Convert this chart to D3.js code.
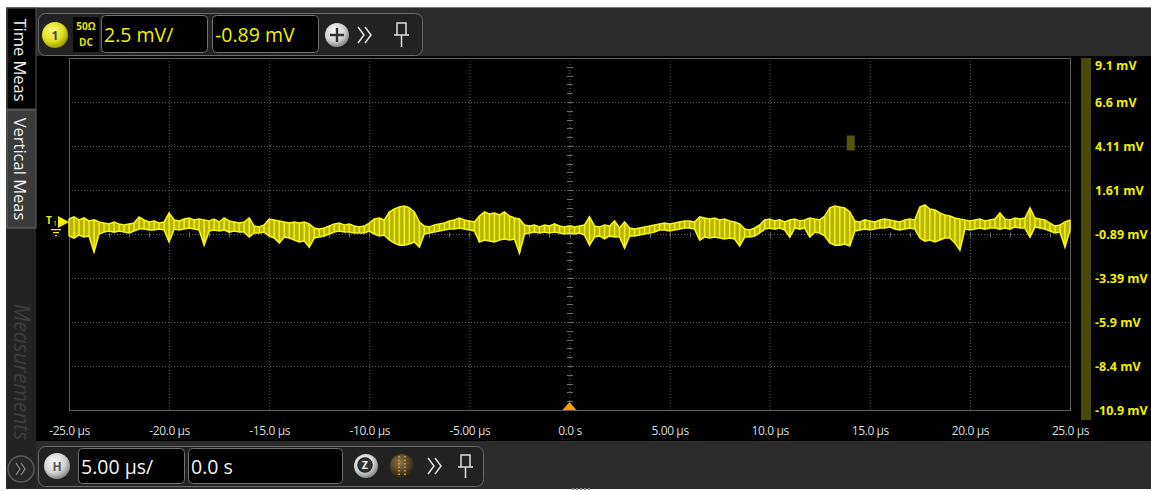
<!DOCTYPE html>
<html>
<head>
<meta charset="utf-8">
<script src="https://cdn.jsdelivr.net/npm/d3@7"></script>
<style>
  body { margin: 0; background: #fff; }
  svg text { font-family: "Open Sans", "Noto Sans", sans-serif; }
</style>
</head>
<body>
<div id="scope"></div>
<script>
// sample grid of the trace (µs)
var timeStart = -25;
var timeStep = 0.25;

// upper and lower edge of the trace at each sample (mV)
var traceMax = [
  -0.05, 0.07, -0.10, 0.01, -0.16, -0.10, -0.22, -0.28, -0.33, -0.22, -0.33, -0.39, -0.33, -0.28, 0.07, -0.10, -0.22, -0.16, -0.28, -0.22,
  0.29, -0.10, -0.16, -0.05, 0.01, -0.10, -0.05, -0.10, -0.16, -0.05, -0.22, 0.01, -0.16, -0.22, -0.28, -0.22, 0.01, -0.45, -0.50, -0.39,
  -0.05, -0.10, -0.16, -0.22, -0.28, -0.22, -0.28, -0.22, -0.33, -0.56, -0.62, -0.56, -0.45, -0.33, -0.28, -0.39, -0.33, -0.45, -0.50, -0.45,
  -0.28, -0.05, 0.01, -0.10, 0.35, 0.52, 0.63, 0.69, 0.58, 0.35, -0.22, -0.45, -0.50, -0.39, -0.33, -0.28, -0.16, -0.10, 0.01, -0.10,
  -0.16, -0.22, 0.12, 0.35, 0.24, 0.29, 0.18, 0.35, 0.12, 0.01, -0.05, -0.39, -0.45, -0.39, -0.50, -0.39, -0.45, -0.33, -0.45, -0.50,
  -0.45, -0.50, -0.45, -0.39, 0.07, -0.45, -0.50, -0.39, -0.45, -0.16, -0.56, -0.22, -0.56, -0.62, -0.56, -0.50, -0.45, -0.39, -0.33, -0.28,
  -0.33, -0.28, -0.22, -0.16, -0.16, -0.22, 0.07, 0.01, -0.05, 0.01, -0.10, -0.05, -0.16, -0.22, -0.33, -0.62, -0.67, -0.56, -0.39, -0.10,
  -0.05, -0.16, -0.10, -0.22, -0.10, -0.05, -0.16, -0.10, 0.01, -0.05, -0.10, 0.12, 0.58, 0.69, 0.63, 0.58, 0.35, -0.16, -0.22, -0.10,
  -0.16, -0.22, -0.10, -0.05, -0.10, -0.16, -0.22, -0.10, -0.05, -0.10, 0.63, 0.75, 0.52, 0.46, 0.29, 0.18, 0.12, 0.01, -0.05, -0.10,
  -0.16, -0.10, -0.05, -0.16, -0.10, -0.05, 0.29, -0.05, -0.10, 0.01, -0.05, 0.01, 0.58, 0.01, -0.05, -0.10, -0.28, -0.45, -0.39, -0.22, -0.10
];
var traceMin = [
  -1.01, -1.13, -0.96, -1.07, -1.01, -1.92, -0.90, -0.79, -0.73, -0.79, -0.73, -0.79, -0.84, -0.73, -0.62, -0.62, -0.67, -0.67, -0.62, -0.67,
  -1.35, -0.62, -0.67, -0.62, -0.56, -0.62, -0.67, -1.53, -0.73, -0.67, -0.73, -0.67, -0.79, -0.73, -0.79, -0.79, -1.07, -0.84, -0.84, -0.79,
  -1.01, -1.13, -1.41, -1.07, -1.13, -1.24, -1.35, -1.30, -1.64, -1.13, -1.07, -1.01, -0.90, -0.79, -0.73, -0.79, -0.79, -0.84, -0.84, -0.84,
  -0.73, -0.90, -1.01, -0.96, -1.24, -1.41, -1.53, -1.53, -1.47, -1.35, -1.64, -0.90, -0.84, -0.79, -0.73, -0.67, -0.62, -0.62, -0.56, -0.62,
  -0.67, -0.73, -1.35, -1.24, -1.30, -1.35, -1.24, -1.18, -1.24, -1.18, -1.98, -0.90, -0.84, -0.79, -0.84, -0.79, -0.84, -0.79, -0.84, -0.90,
  -0.84, -0.90, -0.84, -0.96, -1.53, -1.07, -1.01, -1.18, -1.01, -1.07, -1.07, -1.70, -1.01, -1.01, -0.96, -0.90, -0.84, -0.79, -0.67, -0.67,
  -0.73, -0.67, -0.62, -0.56, -0.56, -0.62, -1.24, -1.07, -1.13, -1.07, -1.13, -1.18, -1.13, -1.18, -1.58, -1.07, -1.07, -1.01, -0.84, -0.62,
  -0.56, -0.62, -0.56, -0.67, -1.07, -0.56, -0.62, -0.56, -1.07, -0.79, -0.84, -1.01, -1.41, -1.53, -1.53, -1.47, -1.58, -0.73, -0.67, -0.62,
  -0.67, -0.62, -0.56, -0.56, -0.50, -0.62, -0.67, -0.62, -0.56, -0.62, -1.13, -1.30, -1.24, -1.35, -1.24, -1.13, -1.13, -1.41, -1.81, -0.62,
  -0.67, -0.62, -0.56, -0.62, -0.56, -0.56, -0.62, -0.56, -0.62, -0.50, -0.56, -0.56, -1.07, -0.50, -0.56, -0.62, -0.73, -0.84, -0.79, -1.64, -0.67
];

var xTickValues = [-25, -20, -15, -10, -5, 0, 5, 10, 15, 20, 25];
var xTickLabels = ["-25.0 µs", "-20.0 µs", "-15.0 µs", "-10.0 µs", "-5.00 µs", "0.0 s",
                   "5.00 µs", "10.0 µs", "15.0 µs", "20.0 µs", "25.0 µs"];
var yTickValues = [9.1, 6.6, 4.1, 1.6, -0.9, -3.4, -5.9, -8.4, -10.9];
var yTickLabels = ["9.1 mV", "6.6 mV", "4.11 mV", "1.61 mV", "-0.89 mV", "-3.39 mV", "-5.9 mV", "-8.4 mV", "-10.9 mV"];

var triggerLevel = -0.22;
var triggerTime = 0;
var markerTime = 14.05;
var markerLevel = 4.3;

var svgWidth = 1151;
var svgHeight = 491;

var plot = { left: 69, right: 1070, top: 58, bottom: 410 };

var svg = d3.select("#scope").append("svg")
    .attr("width", svgWidth)
    .attr("height", svgHeight);

var defs = svg.append("defs");

function radialGrad(id, stops) {
  var g = defs.append("radialGradient").attr("id", id)
      .attr("cx", "40%").attr("cy", "35%").attr("r", "70%");
  stops.forEach(function(s) {
    g.append("stop").attr("offset", s[0]).attr("stop-color", s[1]);
  });
}
radialGrad("gYellow", [["0%", "#fbfb7a"], ["60%", "#dede1e"], ["100%", "#8f8f00"]]);
radialGrad("gSilver", [["0%", "#ffffff"], ["60%", "#cfcfcf"], ["100%", "#7a7a7a"]]);
radialGrad("gBronze", [["0%", "#8a7650"], ["60%", "#4e4028"], ["100%", "#231c10"]]);

// frame + panels
svg.append("rect").attr("x", 6).attr("y", 7).attr("width", svgWidth - 6).attr("height", 482)
    .attr("fill", "#2b2b2b");
svg.append("line").attr("x1", 6).attr("x2", svgWidth).attr("y1", 7.5).attr("y2", 7.5)
    .attr("stroke", "#777");
svg.append("rect").attr("x", 36).attr("y", 56).attr("width", svgWidth - 36).attr("height", 385)
    .attr("fill", "#000");

// left side tabs
var side = svg.append("g");
side.append("rect").attr("x", 7).attr("y", 8).attr("width", 29).attr("height", 101)
    .attr("fill", "#000").attr("stroke", "#555");
side.append("rect").attr("x", 7).attr("y", 110).attr("width", 29).attr("height", 118)
    .attr("fill", "#3b3b3b").attr("stroke", "#666");
side.append("rect").attr("x", 7).attr("y", 229).attr("width", 29).attr("height", 259)
    .attr("fill", "#232323");
side.append("text").attr("transform", "translate(14,60) rotate(90)")
    .attr("text-anchor", "middle").attr("font-size", 16.5).attr("fill", "#f2f2f2")
    .text("Time Meas");
side.append("text").attr("transform", "translate(14,169) rotate(90)")
    .attr("text-anchor", "middle").attr("font-size", 16.5).attr("fill", "#f2f2f2")
    .text("Vertical Meas");
side.append("text").attr("transform", "translate(14,372) rotate(90)")
    .attr("text-anchor", "middle").attr("font-size", 21).attr("font-style", "italic")
    .attr("fill", "#3d3d3d").text("Measurements");
side.append("circle").attr("cx", 21).attr("cy", 469).attr("r", 13)
    .attr("fill", "#262626").attr("stroke", "#5a5a5a").attr("stroke-width", 1.5);
side.append("path").attr("d", "M16,463 l4,6 l-4,6 M21,463 l4,6 l-4,6")
    .attr("fill", "none").attr("stroke", "#8a8a8a").attr("stroke-width", 1.3);

// graticule
var xScale = d3.scaleLinear().domain([-25, 25]).range([plot.left, plot.right]);
var yScale = d3.scaleLinear().domain([-10.9, 9.1]).range([plot.bottom, plot.top]);

var grid = svg.append("g");
grid.selectAll(".vgrid")
    .data(xTickValues.slice(1, -1))
    .enter()
    .append("line")
    .attr("x1", d => xScale(d) + 0.5).attr("x2", d => xScale(d) + 0.5)
    .attr("y1", plot.top).attr("y2", plot.bottom)
    .attr("stroke", "#5c5c5c").attr("stroke-dasharray", "1,2");
grid.selectAll(".hgrid")
    .data(yTickValues.slice(1, -1))
    .enter()
    .append("line")
    .attr("y1", d => Math.round(yScale(d)) + 0.5).attr("y2", d => Math.round(yScale(d)) + 0.5)
    .attr("x1", plot.left).attr("x2", plot.right)
    .attr("stroke", "#5c5c5c").attr("stroke-dasharray", "1,2");

// minor ticks on the centre lines
var cx0 = xScale(0) + 0.5;
var cy0 = Math.round(yScale(-0.9)) + 0.5;
grid.selectAll(".mtx")
    .data(d3.range(-25, 25.01, 1))
    .enter()
    .append("line")
    .attr("x1", d => Math.round(xScale(d)) + 0.5).attr("x2", d => Math.round(xScale(d)) + 0.5)
    .attr("y1", cy0 - 2).attr("y2", cy0 + 3)
    .attr("stroke", "#6a6a6a");
grid.selectAll(".mty")
    .data(d3.range(-10.9, 9.11, 0.5))
    .enter()
    .append("line")
    .attr("y1", d => Math.round(yScale(d)) + 0.5).attr("y2", d => Math.round(yScale(d)) + 0.5)
    .attr("x1", cx0 - 3).attr("x2", cx0 + 3)
    .attr("stroke", "#6a6a6a");
grid.append("rect")
    .attr("x", plot.left + 0.5).attr("y", plot.top + 0.5)
    .attr("width", plot.right - plot.left).attr("height", plot.bottom - plot.top)
    .attr("fill", "none").attr("stroke", "#5e5e5e");

// right hand channel bar
svg.append("rect").attr("x", 1081).attr("y", plot.top).attr("width", 10).attr("height", 362)
    .attr("fill", "#4a4a08");

// axes
var bottomAxis = d3.axisBottom(xScale)
    .tickValues(xTickValues)
    .tickSize(0)
    .tickFormat((d, i) => xTickLabels[i]);
var xAxis = svg.append("g")
    .attr("transform", `translate(0, ${plot.bottom + 13})`)
    .call(bottomAxis);
xAxis.select(".domain").remove();
xAxis.selectAll("text")
    .attr("font-family", "'Open Sans', sans-serif")
    .attr("font-size", 12).attr("letter-spacing", "-0.4px")
    .attr("fill", "#dcdcdc");

var rightAxis = d3.axisRight(yScale)
    .tickValues(yTickValues)
    .tickSize(0)
    .tickFormat((d, i) => yTickLabels[i]);
var yAxis = svg.append("g")
    .attr("transform", `translate(1092, 0)`)
    .call(rightAxis);
yAxis.select(".domain").remove();
yAxis.selectAll("text")
    .attr("font-family", "'Open Sans', sans-serif")
    .attr("font-size", 12.5).attr("font-weight", "bold")
    .attr("fill", "#f0f000")
    .attr("dy", (d, i) => i === 0 ? "0.9em" : "0.32em");

// trace
var samples = traceMax.map(function(v, i) {
  return { t: timeStart + i * timeStep, hi: v, lo: traceMin[i] };
});

var band = d3.area()
    .x(d => xScale(d.t))
    .y0(d => yScale(d.lo))
    .y1(d => yScale(d.hi));

var traceG = svg.append("g");

traceG.append("path")
    .datum(samples)
    .attr("d", band)
    .attr("fill", "#b9b400");

// vertical strokes, one per sample, like a dense scope trace
traceG.selectAll(".seg")
    .data(samples)
    .enter()
    .append("line")
    .attr("x1", d => xScale(d.t)).attr("x2", d => xScale(d.t))
    .attr("y1", d => yScale(d.hi)).attr("y2", d => yScale(d.lo))
    .attr("stroke", "#f2f21c")
    .attr("stroke-width", 1.5);

var edge = d3.line()
    .x(d => xScale(d[0]))
    .y(d => yScale(d[1]));

traceG.append("path")
    .datum(samples.map(d => [d.t, d.hi]))
    .attr("d", edge)
    .attr("fill", "none")
    .attr("stroke", "#f4f41a")
    .attr("stroke-width", 1.6);
traceG.append("path")
    .datum(samples.map(d => [d.t, d.lo]))
    .attr("d", edge)
    .attr("fill", "none")
    .attr("stroke", "#f4f41a")
    .attr("stroke-width", 1.6);

// small marker left over on screen
svg.append("rect")
    .attr("x", xScale(markerTime) - 4).attr("y", yScale(markerLevel) - 7)
    .attr("width", 8).attr("height", 15)
    .attr("fill", "#55550c");

// trigger position + level markers
var tx = xScale(triggerTime);
svg.append("path")
    .attr("d", `M${tx - 7},${plot.bottom} L${tx},${plot.bottom - 8} L${tx + 7},${plot.bottom} Z`)
    .attr("fill", "#f39a12");

var ty = yScale(triggerLevel);
var trig = svg.append("g").attr("fill", "#f0f000");
trig.append("path")
    .attr("d", `M58,${ty - 6} L${plot.left},${ty} L58,${ty + 6} Z`);
trig.append("text").attr("x", 46).attr("y", ty + 2)
    .attr("font-size", 10).attr("font-weight", "bold").text("T");
trig.append("text").attr("x", 53).attr("y", ty + 4)
    .attr("font-size", 7).text("1");
trig.append("path")
    .attr("d", `M51,${ty + 7.5} h10 M53,${ty + 10.5} h6 M55,${ty + 13.5} h2`)
    .attr("stroke", "#f0f000").attr("stroke-width", 1.2);

// top toolbar
var topBar = svg.append("g");
topBar.append("rect").attr("x", 38.5).attr("y", 13.5).attr("width", 384).attr("height", 42).attr("rx", 7)
    .attr("fill", "#222").attr("stroke", "#6a6a6a");
topBar.append("circle").attr("cx", 55).attr("cy", 35).attr("r", 13).attr("fill", "url(#gYellow)");
topBar.append("text").attr("x", 55).attr("y", 39.5).attr("text-anchor", "middle")
    .attr("font-size", 12).attr("font-weight", "bold").attr("fill", "#444").text("1");
topBar.append("rect").attr("x", 73).attr("y", 17).attr("width", 26).attr("height", 35).attr("fill", "#000");
topBar.append("text").attr("x", 86).attr("y", 30).attr("text-anchor", "middle")
    .attr("font-size", 10).attr("font-weight", "bold").attr("fill", "#e6e600").text("50Ω");
topBar.append("text").attr("x", 86).attr("y", 46).attr("text-anchor", "middle")
    .attr("font-size", 10).attr("font-weight", "bold").attr("fill", "#e6e600").text("DC");
topBar.append("rect").attr("x", 101.5).attr("y", 15.5).attr("width", 106).attr("height", 37).attr("rx", 4)
    .attr("fill", "#000").attr("stroke", "#707070");
topBar.append("text").attr("x", 104).attr("y", 42).attr("font-size", 19.5)
    .attr("fill", "#f0f000").text("2.5 mV/");
topBar.append("rect").attr("x", 212.5).attr("y", 15.5).attr("width", 106).attr("height", 37).attr("rx", 4)
    .attr("fill", "#000").attr("stroke", "#707070");
topBar.append("text").attr("x", 215).attr("y", 42).attr("font-size", 19.5)
    .attr("fill", "#f0f000").text("-0.89 mV");
topBar.append("circle").attr("cx", 337).attr("cy", 35).attr("r", 12).attr("fill", "url(#gSilver)");
topBar.append("path").attr("d", "M330,35 h14 M337,28 v14")
    .attr("stroke", "#333").attr("stroke-width", 2.4);
topBar.append("path").attr("d", "M358,27 l6,8 l-6,8 M365,27 l6,8 l-6,8")
    .attr("fill", "none").attr("stroke", "#e0e0e0").attr("stroke-width", 1.5);
topBar.append("path").attr("d", "M397,23 h9 v12 h-9 Z M394,35 h15 M401.5,35 v12")
    .attr("fill", "none").attr("stroke", "#e0e0e0").attr("stroke-width", 1.5);

// bottom toolbar
var botBar = svg.append("g");
botBar.append("rect").attr("x", 38.5).attr("y", 446.5).attr("width", 445).attr("height", 40).attr("rx", 7)
    .attr("fill", "#222").attr("stroke", "#6a6a6a");
botBar.append("circle").attr("cx", 57).attr("cy", 466).attr("r", 13).attr("fill", "url(#gSilver)");
botBar.append("text").attr("x", 57).attr("y", 470.5).attr("text-anchor", "middle")
    .attr("font-size", 12).attr("font-weight", "bold").attr("fill", "#555").text("H");
botBar.append("rect").attr("x", 78.5).attr("y", 448.5).attr("width", 106).attr("height", 35).attr("rx", 4)
    .attr("fill", "#000").attr("stroke", "#707070");
botBar.append("text").attr("x", 81).attr("y", 474).attr("font-size", 19.5)
    .attr("fill", "#f4f4f4").text("5.00 µs/");
botBar.append("rect").attr("x", 188.5).attr("y", 448.5).attr("width", 154).attr("height", 35).attr("rx", 4)
    .attr("fill", "#000").attr("stroke", "#707070");
botBar.append("text").attr("x", 191).attr("y", 474).attr("font-size", 19.5)
    .attr("fill", "#f4f4f4").text("0.0 s");
botBar.append("circle").attr("cx", 366).attr("cy", 466).attr("r", 12).attr("fill", "url(#gSilver)");
botBar.append("circle").attr("cx", 365).attr("cy", 465).attr("r", 7).attr("fill", "#333")
    .attr("stroke", "#222").attr("stroke-width", 1.5);
botBar.append("text").attr("x", 365).attr("y", 469).attr("text-anchor", "middle")
    .attr("font-size", 10).attr("font-weight", "bold").attr("fill", "#fff").text("Z");
botBar.append("circle").attr("cx", 402).attr("cy", 466).attr("r", 12).attr("fill", "url(#gBronze)");
botBar.append("path").attr("d", "M399,456 v20 M405,456 v20")
    .attr("stroke", "#f0a020").attr("stroke-width", 1.6).attr("stroke-dasharray", "1.5,2");
botBar.append("path").attr("d", "M428,458 l6,8 l-6,8 M435,458 l6,8 l-6,8")
    .attr("fill", "none").attr("stroke", "#e0e0e0").attr("stroke-width", 1.5);
botBar.append("path").attr("d", "M461,455 h9 v12 h-9 Z M458,467 h15 M465.5,467 v11")
    .attr("fill", "none").attr("stroke", "#e0e0e0").attr("stroke-width", 1.5);

// grip dots at the bottom edge
svg.selectAll(".grip")
    .data(d3.range(5))
    .enter()
    .append("rect")
    .attr("x", d => 572 + d * 4).attr("y", 488).attr("width", 2).attr("height", 2)
    .attr("fill", "#888");
</script>
</body>
</html>
